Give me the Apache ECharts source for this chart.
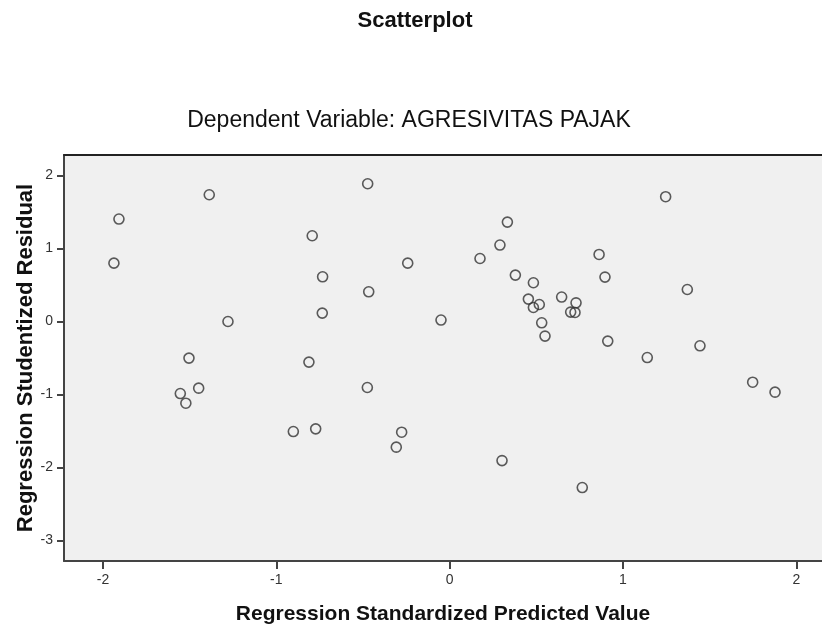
<!DOCTYPE html>
<html>
<head>
<meta charset="utf-8">
<title>Scatterplot</title>
<script src="https://cdn.jsdelivr.net/npm/echarts@6.0.0/dist/echarts.min.js"></script>
<style>
  html, body { margin: 0; padding: 0; background: #fff; }
  #chart { width: 822px; height: 624px; }
</style>
</head>
<body>
<div id="chart"></div>
<script>
// Regression Standardized Predicted Value (x)
const predicted = [
  -1.908, -1.937, -1.387, -1.279, -1.504, -0.473, -0.793, -0.242, -0.733, -0.467,
  -0.735, -0.812, -0.050, 0.175, 0.290, 0.333, 0.379, 0.483, 0.454, 0.517,
  0.483, 0.531, 0.550, 0.646, 0.729, 0.698, 0.723, 0.862, 0.896, 0.912,
  1.140, 1.246, 1.371, 1.444, 1.748, 1.877, -1.554, -1.522, -1.448, -0.902,
  -0.773, -0.475, -0.277, -0.308, 0.302, 0.765
];
// Regression Studentized Residual (y)
const residual = [
  1.405, 0.800, 1.738, 0.000, -0.502, 1.889, 1.176, 0.800, 0.613, 0.407,
  0.115, -0.557, 0.020, 0.864, 1.048, 1.363, 0.636, 0.531, 0.307, 0.233,
  0.192, -0.018, -0.200, 0.335, 0.256, 0.129, 0.124, 0.919, 0.609, -0.269,
  -0.494, 1.711, 0.439, -0.333, -0.832, -0.969, -0.988, -1.120, -0.914, -1.509,
  -1.472, -0.905, -1.518, -1.723, -1.907, -2.277
];
const xTicks = [-2, -1, 0, 1, 2];
const yTicks = [-3, -2, -1, 0, 1, 2];

const points = predicted.map((x, i) => [x, residual[i]]);

const font = 'Liberation Sans, Arial, sans-serif';
const xMin = -2.225, xMax = 2.148;
const yMin = -3.284, yMax = 2.283;

const chart = echarts.init(document.getElementById('chart'));
chart.setOption({
  backgroundColor: '#fff',
  animation: false,
  title: [
    {
      text: 'Scatterplot',
      left: 415, top: 10, textAlign: 'center', padding: 0,
      textStyle: { fontFamily: font, fontSize: 22, fontWeight: 'bold', color: '#111' }
    },
    {
      text: 'Dependent Variable: AGRESIVITAS PAJAK',
      left: 409, top: 109, textAlign: 'center', padding: 0,
      textStyle: { fontFamily: font, fontSize: 23, fontWeight: 'normal', color: '#111' }
    }
  ],
  grid: {
    left: 64, top: 155, right: 0, bottom: 63,
    outerBoundsMode: 'none',
    show: true, backgroundColor: '#f0f0f0', borderWidth: 0
  },
  xAxis: [
    {
      type: 'value', min: xMin, max: xMax,
      name: 'Regression Standardized Predicted Value',
      nameLocation: 'middle', nameGap: 43, nameMoveOverlap: false,
      nameTextStyle: { fontFamily: font, fontSize: 21, fontWeight: 'bold', color: '#111' },
      axisLine: { show: true, onZero: false, lineStyle: { color: '#444', width: 2 } },
      axisTick: { show: true, length: 8, customValues: xTicks, lineStyle: { color: '#444', width: 2 } },
      axisLabel: { customValues: xTicks, margin: 12, fontFamily: font, fontSize: 14, color: '#333' },
      splitLine: { show: false }
    },
    {
      // garis bingkai atas
      type: 'value', position: 'top', min: xMin, max: xMax,
      axisLine: { show: true, onZero: false, lineStyle: { color: '#222', width: 2 } },
      axisTick: { show: false },
      axisLabel: { show: false },
      splitLine: { show: false }
    }
  ],
  yAxis: {
    type: 'value', min: yMin, max: yMax,
    name: 'Regression Studentized Residual',
    nameLocation: 'middle', nameGap: 27, nameMoveOverlap: false,
    nameTextStyle: { fontFamily: font, fontSize: 22, fontWeight: 'bold', color: '#111' },
    axisLine: { show: true, onZero: false, lineStyle: { color: '#444', width: 2 } },
    axisTick: { show: true, length: 7, customValues: yTicks, lineStyle: { color: '#444', width: 2 } },
    axisLabel: { customValues: yTicks, margin: 11, fontFamily: font, fontSize: 14, color: '#333' },
    splitLine: { show: false }
  },
  series: [
    {
      type: 'scatter',
      data: points,
      symbol: 'circle',
      symbolSize: 10,
      itemStyle: { color: 'rgba(0,0,0,0)', borderColor: '#333', borderWidth: 1.6 }
    }
  ]
});
</script>
</body>
</html>
